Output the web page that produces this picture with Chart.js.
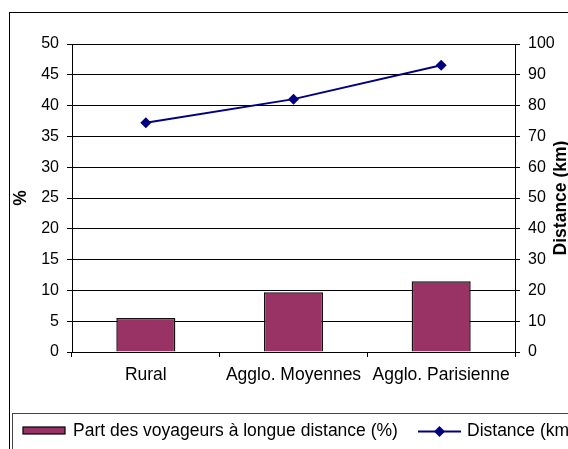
<!DOCTYPE html>
<html>
<head>
<meta charset="utf-8">
<script src="https://cdn.jsdelivr.net/npm/chart.js@4/dist/chart.umd.min.js"></script>
<style>
  html, body { margin: 0; padding: 0; background: #fff; overflow: hidden; }
  canvas { display: block; }
</style>
</head>
<body>
<canvas id="chart" width="568" height="449"></canvas>
<script>
// Categories and the two series
const categories = ['Rural', 'Agglo. Moyennes', 'Agglo. Parisienne'];
const partVoyageurs = [5.5, 9.7, 11.5];   // % of long-distance travellers
const distanceKm = [74.4, 82.1, 93.1];    // average distance (km)

// Axis ranges / tick labels
const pctTicks = [0, 5, 10, 15, 20, 25, 30, 35, 40, 45, 50];
const kmTicks = [0, 10, 20, 30, 40, 50, 60, 70, 80, 90, 100];

const barLabel = 'Part des voyageurs à longue distance (%)';
const lineLabel = 'Distance (km)';
const leftTitle = '%';
const rightTitle = 'Distance (km)';

const BAR_COLOR = '#993366';
const LINE_COLOR = '#000080';
const FONT = '"Liberation Sans", Arial, sans-serif';
const TEXT_SIZE = 17.5;

Chart.defaults.font.family = FONT;
Chart.defaults.font.size = 16;
Chart.defaults.color = '#000';

// Frame, legend and the upward-reading right axis title
const decorations = {
    id: 'decorations',
    afterDraw(chart) {
        const ctx = chart.ctx;
        const ds = chart.data.datasets;

        ctx.save();
        ctx.lineWidth = 1;
        ctx.strokeStyle = '#000';
        ctx.strokeRect(9.5, 12.5, 700, 600);
        ctx.strokeStyle = '#444';
        ctx.strokeRect(12.5, 413.5, 700, 100);

        // right axis title
        const y1 = chart.scales.y1;
        ctx.save();
        ctx.translate(566, (y1.top + y1.bottom) / 2);
        ctx.rotate(-Math.PI / 2);
        ctx.font = 'bold ' + TEXT_SIZE + 'px ' + FONT;
        ctx.fillStyle = '#000';
        ctx.textAlign = 'center';
        ctx.textBaseline = 'alphabetic';
        ctx.fillText(rightTitle, 0, 0);
        ctx.restore();

        // legend
        ctx.font = TEXT_SIZE + 'px ' + FONT;
        ctx.textBaseline = 'alphabetic';
        ctx.textAlign = 'left';

        ctx.fillStyle = ds[0].backgroundColor;
        ctx.fillRect(23, 427, 42, 7);
        ctx.strokeStyle = '#000';
        ctx.lineWidth = 1.2;
        ctx.strokeRect(23, 427, 42, 7);
        ctx.fillStyle = '#000';
        ctx.fillText(ds[0].label, 73, 436);

        ctx.strokeStyle = ds[1].borderColor;
        ctx.lineWidth = 2;
        ctx.beginPath();
        ctx.moveTo(418, 431.5);
        ctx.lineTo(461, 431.5);
        ctx.stroke();
        ctx.fillStyle = ds[1].pointBackgroundColor;
        ctx.beginPath();
        ctx.moveTo(439.5, 426);
        ctx.lineTo(445, 431.5);
        ctx.lineTo(439.5, 437);
        ctx.lineTo(434, 431.5);
        ctx.closePath();
        ctx.fill();
        ctx.fillStyle = '#000';
        ctx.fillText(ds[1].label, 467, 436);
        ctx.restore();
    }
};

new Chart(document.getElementById('chart'), {
    data: {
        labels: categories,
        datasets: [
            {
                type: 'bar',
                label: barLabel,
                data: partVoyageurs,
                backgroundColor: BAR_COLOR,
                borderColor: '#111',
                borderWidth: 1.5,
                barPercentage: 0.4,
                categoryPercentage: 1,
                yAxisID: 'y',
                order: 1
            },
            {
                type: 'line',
                label: lineLabel,
                data: distanceKm,
                borderColor: LINE_COLOR,
                borderWidth: 2,
                pointStyle: 'rectRot',
                pointRadius: 5.5,
                pointBackgroundColor: LINE_COLOR,
                pointBorderColor: LINE_COLOR,
                pointBorderWidth: 0,
                tension: 0,
                yAxisID: 'y1',
                order: 0
            }
        ]
    },
    options: {
        responsive: false,
        animation: false,
        events: [],
        layout: {
            padding: { left: 10, top: 44, right: 13, bottom: 47 }
        },
        plugins: {
            legend: { display: false },
            tooltip: { enabled: false }
        },
        scales: {
            x: {
                type: 'category',
                offset: true,
                grid: {
                    display: true,
                    offset: true,
                    drawOnChartArea: false,
                    drawTicks: true,
                    tickLength: 5,
                    color: '#000'
                },
                border: { color: '#000', width: 1 },
                ticks: { padding: 8, maxRotation: 0, autoSkip: false, font: { size: TEXT_SIZE } },
                afterFit(scale) { scale.height = 50; }
            },
            y: {
                position: 'left',
                min: pctTicks[0],
                max: pctTicks[pctTicks.length - 1],
                ticks: { stepSize: pctTicks[1] - pctTicks[0], padding: 8 },
                grid: { color: '#000', tickLength: 5 },
                border: { color: '#000', width: 1 },
                title: {
                    display: true,
                    text: leftTitle,
                    font: { weight: 'bold', size: TEXT_SIZE },
                    padding: { top: 1, bottom: 0 }
                },
                afterFit(scale) { scale.width = 62; }
            },
            y1: {
                position: 'right',
                min: kmTicks[0],
                max: kmTicks[kmTicks.length - 1],
                ticks: { stepSize: kmTicks[1] - kmTicks[0], padding: 8 },
                grid: { drawOnChartArea: false, color: '#000', tickLength: 5 },
                border: { color: '#000', width: 1 },
                afterFit(scale) { scale.width = 40; }
            }
        }
    },
    plugins: [decorations]
});
</script>
</body>
</html>
